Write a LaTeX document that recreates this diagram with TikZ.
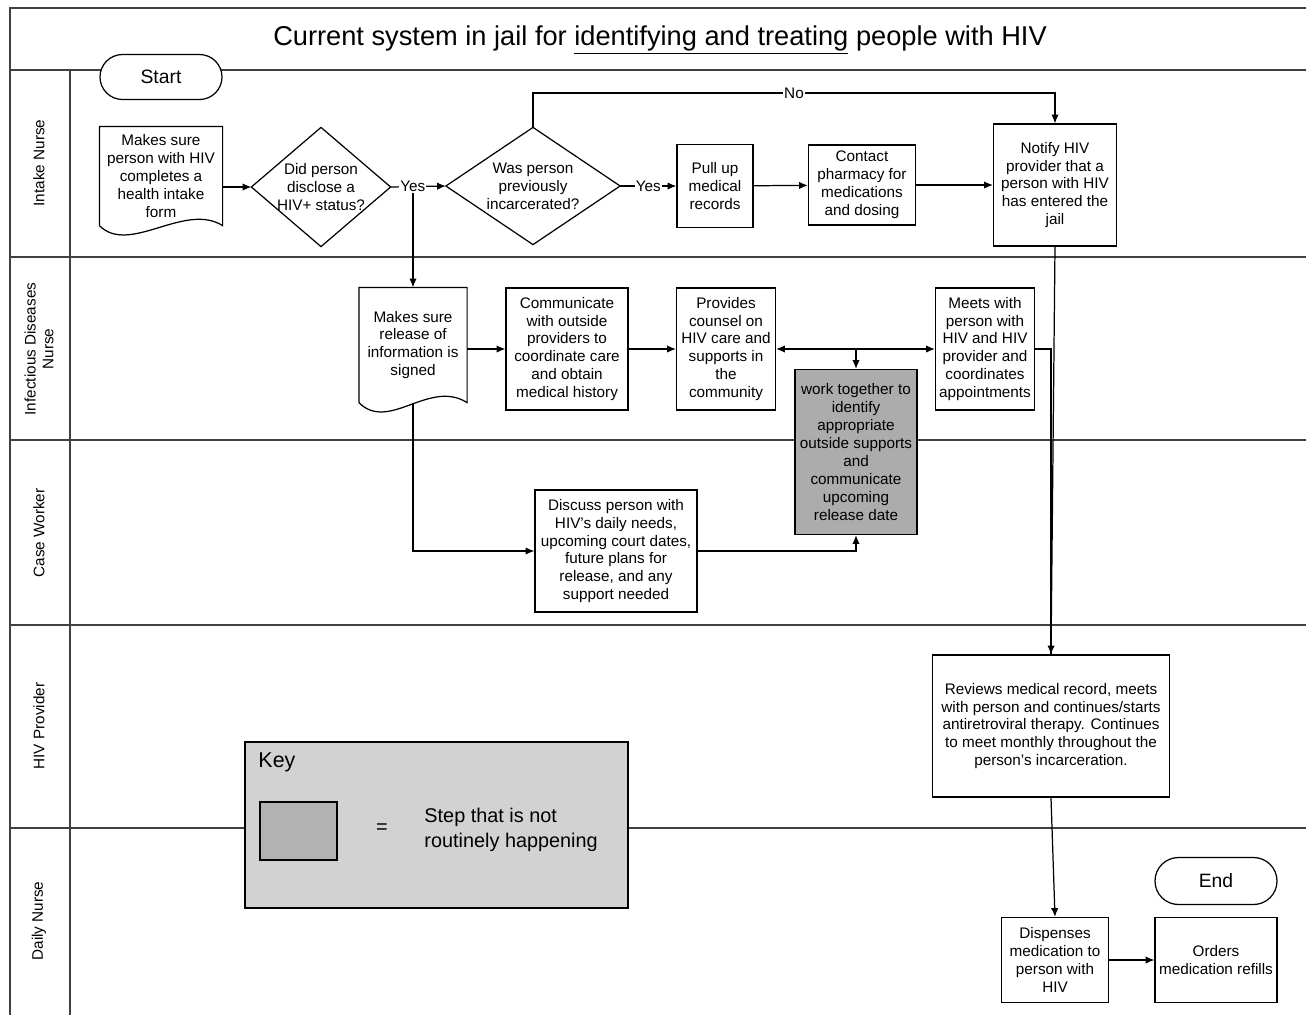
\documentclass[tikz,border=0pt]{standalone}
\usepackage{fontspec}
\setmainfont{Liberation Sans}
\usetikzlibrary{arrows.meta}
\tikzset{
	frame/.style={line width=1.2pt, draw=black!75},
	proc/.style n args={2}{draw, fill=white, align=center, inner sep=1pt,
		minimum width=#1*0.02cm, minimum height=#2*0.02cm,
		font=\fontsize{8.7}{10.2}\selectfont},
	term/.style n args={2}{proc={#1}{#2}, rounded corners=#2*0.01cm, font=\fontsize{11}{13}\selectfont},
	docbox/.style n args={2}{proc={#1}{#2}, draw=none, fill=none},
	decision/.style n args={2}{proc={#1}{#2}, draw=none, fill=none},
	shaded/.style={fill=gray!65},
	lane/.style={rotate=90, align=center, font=\fontsize{8.7}{10.2}\selectfont},
	lbl/.style={fill=white, inner sep=0.5pt, font=\fontsize{8.7}{10.2}\selectfont},
	keyfont/.style={font=\fontsize{11.3}{14.2}\selectfont}
}
% outlines drawn round plain nodes
\newcommand{\docline}[1]{\draw (#1.south west) -- (#1.north west) -- (#1.north east) -- (#1.south east)
	.. controls +(-38,-24) and +(30,30) .. (#1.south west);}
\newcommand{\decisionline}[1]{\draw (#1.north) -- (#1.east) -- (#1.south) -- (#1.west) -- cycle;}

\begin{document}
\begin{tikzpicture}[x=0.02cm, y=-0.02cm, >={Latex[length=5pt,width=4.2pt]}, line width=0.7pt]
	\useasboundingbox (0,0) rectangle (1306,1015);

	% --- swimlanes ---
	\draw[frame] (10,1015) -- (10,8) -- (1306,8);
	\draw[frame] (10,70) -- (1306,70);
	\draw[frame] (70,70) -- (70,1015);
	\foreach \y in {257,440,625,828}
		\draw[frame] (10,\y) -- (1306,\y);

	\node (title) at (660,40) {\fontsize{15.5}{18}\selectfont Current system in jail for \underline{identifying and treating} people with HIV};

	\node[lane] (laneIntake) at (39,163) {Intake Nurse};
	\node[lane] (laneID) at (39,349) {Infectious Diseases\\Nurse};
	\node[lane] (laneCase) at (39,533) {Case Worker};
	\node[lane] (laneHIV) at (39,726) {HIV Provider};
	\node[lane] (laneDaily) at (39,921) {Daily Nurse};

	% --- intake nurse ---
	\node[term={122}{45}] (start) at (161,77) {Start};
	\node[docbox={122}{98}] (intake) at (161,176) {Makes sure\\person with HIV\\completes a\\health intake\\form};
	\docline{intake}
	\node[decision={138}{118}] (disclose) at (321,187) {Did person\\disclose a\\HIV+ status?};
	\decisionline{disclose}
	\node[decision={173}{116}] (prior) at (533,186) {Was person\\previously\\incarcerated?};
	\decisionline{prior}
	\node[proc={76}{83}] (pull) at (715,186) {Pull up\\medical\\records};
	\node[proc={107}{80}] (pharm) at (862,185) {Contact\\pharmacy for\\medications\\and dosing};
	\node[proc={123}{122}] (notify) at (1055,185) {Notify HIV\\provider that a\\person with HIV\\has entered the\\jail};

	% --- infectious diseases nurse ---
	\node[docbox={107}{114}] (release) at (413,345) {Makes sure\\release of\\information is\\signed};
	\docline{release}
	\node[proc={122}{122}] (comm) at (567,349) {Communicate\\with outside\\providers to\\coordinate care\\and obtain\\medical history};
	\node[proc={99}{122}] (counsel) at (726,349) {Provides\\counsel on\\HIV care and\\supports in\\the\\community};
	\node[proc={99}{122}] (meets) at (985,349) {Meets with\\person with\\HIV and HIV\\provider and\\coordinates\\appointments};
	\node[proc={122}{165}, shaded] (together) at (856,452) {work together to\\identify\\appropriate\\outside supports\\and\\communicate\\upcoming\\release date};

	% --- case worker ---
	\node[proc={162}{122}] (discuss) at (616,551) {Discuss person with\\HIV’s daily needs,\\upcoming court dates,\\future plans for\\release, and any\\support needed};

	% --- hiv provider ---
	\node[proc={237}{142}] (reviews) at (1051,726) {Reviews medical record, meets\\with person and continues/starts\\antiretroviral therapy. Continues\\to meet monthly throughout the\\person’s incarceration.};

	% --- daily nurse ---
	\node[term={122}{47}] (finish) at (1216,881) {End};
	\node[proc={107}{85}] (dispense) at (1055,960) {Dispenses\\medication to\\person with\\HIV};
	\node[proc={122}{85}] (refills) at (1216,960) {Orders\\medication refills};

	% --- key ---
	\node[draw, line width=1.3pt, fill=gray!35, minimum width=383*0.02cm, minimum height=166*0.02cm] (key) at (436.5,825) {};
	\node[keyfont, anchor=west, font=\fontsize{12.2}{14}\selectfont] (keyTitle) at (252,762) {Key};
	\node[draw, fill=gray!60, minimum width=77*0.02cm, minimum height=58*0.02cm] (swatch) at (298.5,831) {};
	\node[keyfont] (equals) at (382,829) {=};
	\node[keyfont, anchor=west, align=left] (keyText) at (418,830) {Step that is not\\routinely happening};

	% --- connectors ---
	\coordinate (yesSplit) at (413,187);
	\coordinate (noBend) at (533,93);
	\coordinate (merge) at (856,349);

	\draw[->] (intake.east |- disclose.west) -- (disclose.west);
	\draw[->] (yesSplit) -- (release.north);
	\draw[->] (disclose.east) -- node[lbl, pos=0.4] {Yes} (prior.west);
	\draw[->] (prior.east) -- node[lbl] {Yes} (pull.west);
	\draw[->] (pull) -- (pharm);
	\draw[->] (pharm) -- (notify);
	\draw[->] (prior.north) -- (noBend) -| node[lbl, pos=0.25] {No} (notify.north);

	\draw[->] (release.east |- comm.west) -- (comm.west);
	\draw[->] (comm) -- (counsel);
	\draw[<->] (counsel) -- (meets);
	\draw[->] (merge) -- (together.north);
	\draw[->] (release.south) |- (discuss.west);
	\draw[->] (discuss.east) -| (together.south);

	\draw[->] (notify.south) -- (reviews.north);
	\draw (meets.east) -| (reviews.north);
	\draw[->] (reviews.south) -- (dispense.north);
	\draw[->] (dispense) -- (refills);

\end{tikzpicture}
\end{document}
